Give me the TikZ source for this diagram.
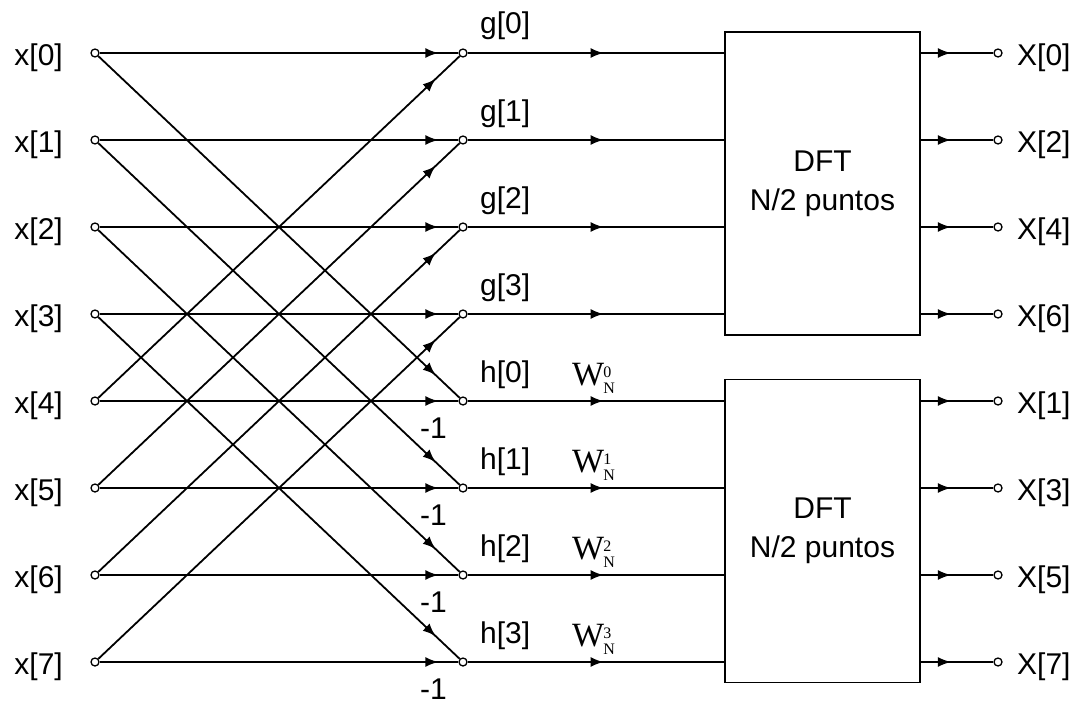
\documentclass[tikz,border=0pt]{standalone}
\usepackage{fontspec}
\setmainfont{Liberation Sans}
\newfontfamily\serif{Liberation Serif}
\usetikzlibrary{positioning,arrows.meta,decorations.markings}

\newcommand\twf[1]{{\serif\fontsize{34}{39}\selectfont W\kern-1pt\rlap{\raisebox{8pt}{\fontsize{16}{16}\selectfont #1}}\raisebox{-8pt}{\fontsize{16}{16}\selectfont N}}}

\tikzset{
  port/.style={circle, draw, fill=white, inner sep=0pt, minimum size=8pt, line width=1.3pt},
  lbl/.style={inner sep=0pt, font=\fontsize{30}{39}\selectfont},
  dftbox/.style={draw, line width=1.8pt, minimum width=195pt, minimum height=303pt, align=center, font=\fontsize{30}{39}\selectfont},
  flow/.style={line width=1.8pt, postaction={decorate},
    decoration={markings, mark=at position #1 with {\arrow{Latex[length=13pt,width=10pt]}}}},
}

\begin{document}
\begin{tikzpicture}[x=1pt, y=-1pt]
	\useasboundingbox (0,0) rectangle (1088,704);

	% ports
	\foreach \i in {0,...,7} {
		\node[port] (in\i) at (95,53+87*\i) {};
		\node[port] (mid\i) at (463,53+87*\i) {};
		\node[lbl, anchor=base east] (lx\i) at ([xshift=-32pt,yshift=-12pt]in\i.center) {x[\i]};
	}

	\node[dftbox] (dftA) at (822.5,183.5) {DFT\\N/2 puntos};
	\node[dftbox] (dftB) at (822.5,531) {DFT\\N/2 puntos};

	% butterflies
	\foreach \i [evaluate=\i as \j using {int(\i+4)}] in {0,...,3} {
		\draw[flow=-20pt] (in\i) -- (mid\i);
		\draw[flow=-33pt] (in\j) -- (mid\i);
		\draw[flow=-33pt] (in\i) -- (mid\j);
		\draw[flow=-20pt] (in\j) -- (mid\j);

		\node[lbl, anchor=base west] (lg\i) at ([xshift=17pt,yshift=19pt]mid\i.center) {g[\i]};
		\node[lbl, anchor=base west] (lh\i) at ([xshift=17pt,yshift=19pt]mid\j.center) {h[\i]};
		\node[lbl, anchor=base west] (lw\i) at ([xshift=109pt,yshift=16pt]mid\j.center) {\twf{\i}};
		\node[lbl, anchor=base west] (lm\i) at ([xshift=-43pt,yshift=-37pt]mid\j.center) {-1};
	}

	% into the boxes
	\foreach \i/\b in {0/dftA,1/dftA,2/dftA,3/dftA,4/dftB,5/dftB,6/dftB,7/dftB}
		\draw[flow=0.53] (mid\i) -- (mid\i -| \b.west);

	% outputs
	\foreach \i/\k/\b in {0/0/dftA,1/2/dftA,2/4/dftA,3/6/dftA,4/1/dftB,5/3/dftB,6/5/dftB,7/7/dftB} {
		\node[port] (out\i) at (998,53+87*\i) {};
		\node[lbl, anchor=base west] (lX\i) at ([xshift=19pt,yshift=-12pt]out\i.center) {X[\k]};
		\draw[flow=30pt] (out\i -| \b.east) -- (out\i);
	}
\end{tikzpicture}
\end{document}
